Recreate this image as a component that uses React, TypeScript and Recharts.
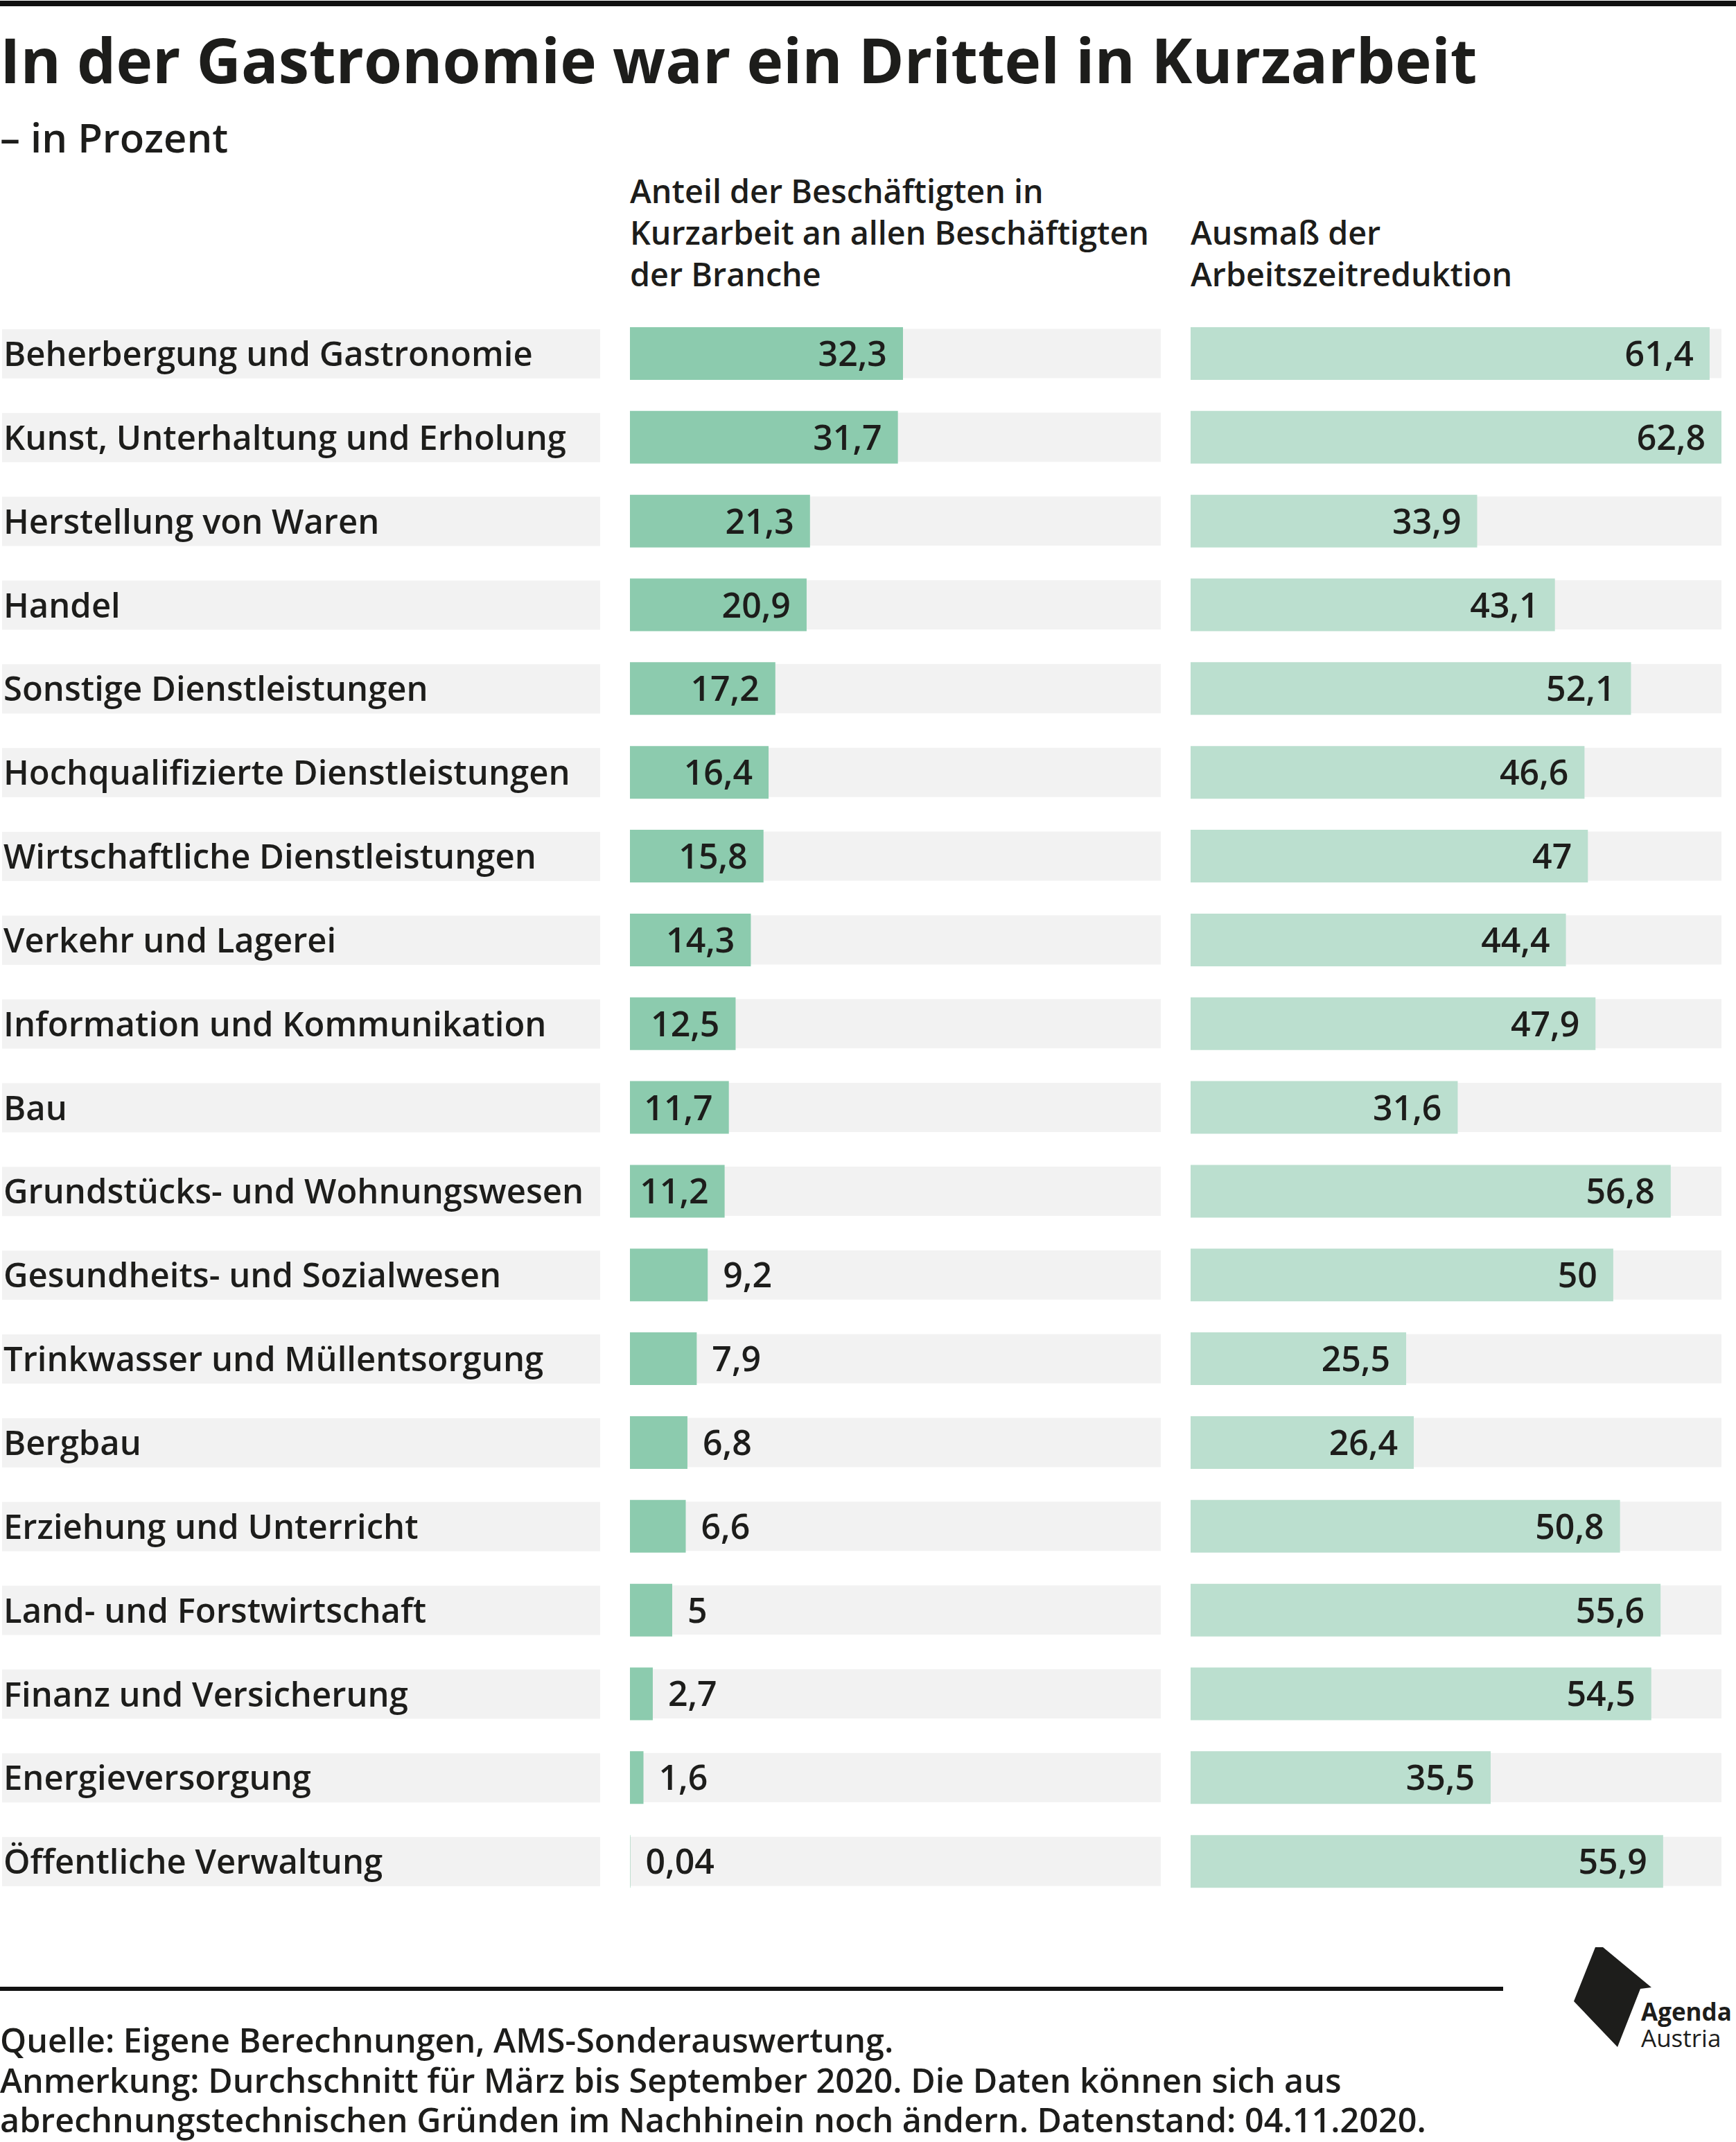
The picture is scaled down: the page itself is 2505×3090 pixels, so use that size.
import React from "react";
import { Bar, BarChart, LabelList, XAxis, YAxis } from "recharts";

const categories = [
  "Beherbergung und Gastronomie",
  "Kunst, Unterhaltung und Erholung",
  "Herstellung von Waren",
  "Handel",
  "Sonstige Dienstleistungen",
  "Hochqualifizierte Dienstleistungen",
  "Wirtschaftliche Dienstleistungen",
  "Verkehr und Lagerei",
  "Information und Kommunikation",
  "Bau",
  "Grundstücks- und Wohnungswesen",
  "Gesundheits- und Sozialwesen",
  "Trinkwasser und Müllentsorgung",
  "Bergbau",
  "Erziehung und Unterricht",
  "Land- und Forstwirtschaft",
  "Finanz und Versicherung",
  "Energieversorgung",
  "Öffentliche Verwaltung",
];

// Anteil der Beschäftigten in Kurzarbeit
const shareValues = [32.3, 31.7, 21.3, 20.9, 17.2, 16.4, 15.8, 14.3, 12.5, 11.7, 11.2, 9.2, 7.9, 6.8, 6.6, 5, 2.7, 1.6, 0.04];
// Ausmaß der Arbeitszeitreduktion
const reductionValues = [61.4, 62.8, 33.9, 43.1, 52.1, 46.6, 47, 44.4, 47.9, 31.6, 56.8, 50, 25.5, 26.4, 50.8, 55.6, 54.5, 35.5, 55.9];

const headerLeft = ["Anteil der Beschäftigten in", "Kurzarbeit an allen Beschäftigten", "der Branche"];
const headerRight = ["Ausmaß der", "Arbeitszeitreduktion"];
const footerLines = [
  "Quelle: Eigene Berechnungen, AMS-Sonderauswertung.",
  "Anmerkung: Durchschnitt für März bis September 2020. Die Daten können sich aus",
  "abrechnungstechnischen Gründen im Nachhinein noch ändern. Datenstand: 04.11.2020.",
];

const DOMAIN_MAX = 62.8;
const FONT = "'Open Sans', sans-serif";
const INK = "#1d1d1b";
const GREY = "#f2f2f2";

const data = categories.map((name, i) => ({
  name,
  share: shareValues[i],
  reduction: reductionValues[i],
}));

const fmt = (v: number) => String(v).replace(".", ",");

const CHART_TOP = 450;
const CHART_H = 2296;

function CategoryTick(props: any) {
  const { y, payload } = props;
  return (
    <g>
      <rect x={3} y={y - 35.5} width={863} height={71} fill={GREY} />
      <text x={5} y={y} dy="0.36em" fontFamily={FONT} fontWeight={600} fontSize={49} fill={INK}>
        {payload.value}
      </text>
    </g>
  );
}

function makeValueLabel(insideFrom: number) {
  return (props: any) => {
    const { x, y, width, height, value } = props;
    const inside = value >= insideFrom;
    return (
      <text
        x={inside ? x + width - 23 : x + width + 22}
        y={y + height / 2}
        dy="0.36em"
        textAnchor={inside ? "end" : "start"}
        fontFamily={FONT}
        fontWeight={600}
        fontSize={50}
        fill={INK}
      >
        {fmt(value)}
      </text>
    );
  };
}

const trackShape = (p: any) => (
  <rect x={p.x} y={p.y + 2.5} width={p.width} height={p.height - 5} fill={GREY} />
);

export default function App() {
  return (
    <div
      style={{
        position: "absolute",
        left: 0,
        top: 0,
        width: 2505,
        height: 3090,
        background: "#fff",
        overflow: "hidden",
      }}
    >
      <svg width={2505} height={3090} style={{ position: "absolute", left: 0, top: 0 }}>
        <rect x={0} y={1} width={2505} height={8} fill="#111" />
        <text x={0} y={120} fontFamily={FONT} fontWeight={700} fontSize={89} fill={INK}>
          In der Gastronomie war ein Drittel in Kurzarbeit
        </text>
        <text x={0} y={220} fontFamily={FONT} fontWeight={600} fontSize={58} fill={INK}>
          – in Prozent
        </text>
        {headerLeft.map((t, i) => (
          <text key={t} x={909} y={293 + i * 60} fontFamily={FONT} fontWeight={600} fontSize={46.7} fill={INK}>
            {t}
          </text>
        ))}
        {headerRight.map((t, i) => (
          <text key={t} x={1718} y={353 + i * 60} fontFamily={FONT} fontWeight={600} fontSize={46.7} fill={INK}>
            {t}
          </text>
        ))}
        <rect x={0} y={2866} width={2169} height={6} fill="#111" />
        {footerLines.map((t, i) => (
          <text key={t} x={0} y={2961 + i * 57.5} fontFamily={FONT} fontWeight={600} fontSize={48.5} fill={INK}>
            {t}
          </text>
        ))}
        <polygon
          points="2302,2809 2313,2809 2383,2867 2367,2869 2334,2953 2271,2887"
          fill={INK}
        />
        <text x={2368} y={2915} fontFamily={FONT} fontWeight={700} fontSize={35} fill={INK}>
          Agenda
        </text>
        <text x={2368} y={2953} fontFamily={FONT} fontWeight={400} fontSize={35} fill={INK}>
          Austria
        </text>
      </svg>

      <div style={{ position: "absolute", left: 0, top: CHART_TOP }}>
        <BarChart
          width={1675}
          height={CHART_H}
          data={data}
          layout="vertical"
          margin={{ top: 0, right: 0, bottom: 0, left: 0 }}
          barSize={76}
        >
          <XAxis type="number" domain={[0, DOMAIN_MAX]} hide />
          <YAxis
            type="category"
            dataKey="name"
            width={909}
            interval={0}
            axisLine={false}
            tickLine={false}
            tick={<CategoryTick />}
          />
          <Bar dataKey="share" fill="#8ccbae" background={trackShape} isAnimationActive={false}>
            <LabelList dataKey="share" content={makeValueLabel(10)} />
          </Bar>
        </BarChart>
      </div>

      <div style={{ position: "absolute", left: 1718, top: CHART_TOP }}>
        <BarChart
          width={766}
          height={CHART_H}
          data={data}
          layout="vertical"
          margin={{ top: 0, right: 0, bottom: 0, left: 0 }}
          barSize={76}
        >
          <XAxis type="number" domain={[0, DOMAIN_MAX]} hide />
          <YAxis type="category" dataKey="name" hide />
          <Bar dataKey="reduction" fill="#bbdfcf" background={trackShape} isAnimationActive={false}>
            <LabelList dataKey="reduction" content={makeValueLabel(10)} />
          </Bar>
        </BarChart>
      </div>
    </div>
  );
}
